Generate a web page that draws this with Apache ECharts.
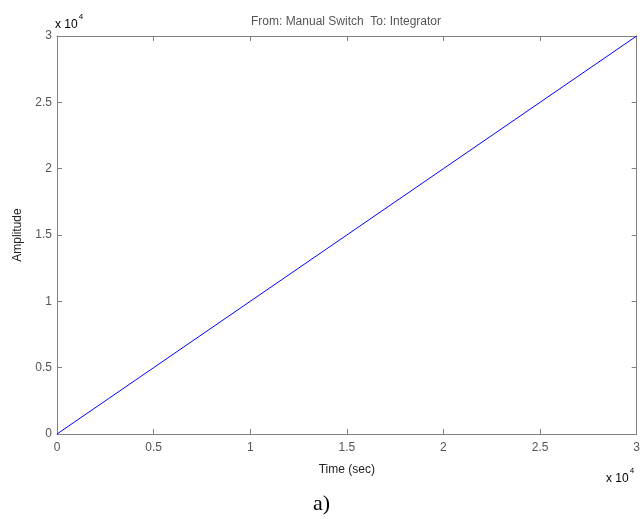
<!DOCTYPE html>
<html>
<head>
<meta charset="utf-8">
<script src="https://cdn.jsdelivr.net/npm/echarts@6/dist/echarts.min.js"></script>
<style>
  html, body { margin: 0; padding: 0; background: #fff; }
  #chart { width: 643px; height: 519px; }
</style>
</head>
<body>
<div id="chart"></div>
<script>
// Step response: integrator output over time
const timeSec = [0, 5000, 10000, 15000, 20000, 25000, 30000];
const amplitude = [0, 5000, 10000, 15000, 20000, 25000, 30000];
const axisScale = 10000; // tick labels shown as multiples of 10^4

const titleText = 'From: Manual Switch  To: Integrator';
const xName = 'Time (sec)';
const yName = 'Amplitude';
const caption = 'a)';

const axisColor = '#808080';
const labelColor = '#555555';
const font = 'Liberation Sans, Arial, sans-serif';

const chart = echarts.init(document.getElementById('chart'), null, { renderer: 'canvas' });

function makeAxis(labelMargin) {
  return {
    type: 'value',
    min: 0,
    max: 30000,
    interval: 5000,
    axisLine: { show: true, onZero: false, lineStyle: { color: axisColor, width: 1 } },
    axisTick: { show: true, inside: true, length: 5, lineStyle: { color: axisColor } },
    splitLine: { show: false },
    axisLabel: {
      color: labelColor, fontFamily: font, fontSize: 12, margin: labelMargin,
      formatter: v => String(v / axisScale)
    }
  };
}

const sciLabel = {
  rich: {
    b: { fontFamily: font, fontSize: 12, color: labelColor, padding: [6, 0, 0, 0] },
    s: { fontFamily: font, fontSize: 8, color: labelColor, verticalAlign: 'top', padding: [0, 0, 0, 1] }
  }
};

chart.setOption({
  animation: false,
  backgroundColor: '#ffffff',
  grid: { left: 57, top: 36, right: 6, bottom: 85, containLabel: false },
  title: {
    text: titleText,
    left: 341, top: 11, textAlign: 'center',
    textStyle: { fontFamily: font, fontSize: 12, fontWeight: 'normal', color: labelColor }
  },
  xAxis: [
    Object.assign(makeAxis(8), {
      position: 'bottom',
      name: xName, nameLocation: 'middle', nameGap: 30,
      nameTextStyle: { fontFamily: font, fontSize: 12, color: '#222' }
    }),
    Object.assign(makeAxis(8), { position: 'top', axisLabel: { show: false } })
  ],
  yAxis: [
    Object.assign(makeAxis(5), {
      position: 'left',
      name: yName, nameLocation: 'middle', nameGap: 33,
      nameTextStyle: { fontFamily: font, fontSize: 12, color: '#222' }
    }),
    Object.assign(makeAxis(5), { position: 'right', axisLabel: { show: false } })
  ],
  series: [{
    type: 'line',
    data: timeSec.map((t, i) => [t, amplitude[i]]),
    showSymbol: false,
    lineStyle: { color: '#0000ff', width: 1 },
    silent: true
  }],
  graphic: [
    {
      type: 'text', left: 55, top: 13,
      style: Object.assign({ text: '{b|x 10}{s|4}' }, sciLabel)
    },
    {
      type: 'text', left: 606, top: 467,
      style: Object.assign({ text: '{b|x 10}{s|4}' }, sciLabel)
    },
    {
      type: 'text', left: 313, top: 493,
      style: {
        text: caption, fontFamily: 'Liberation Serif, Times New Roman, serif',
        fontSize: 22, fill: '#000'
      }
    }
  ]
});
</script>
</body>
</html>
